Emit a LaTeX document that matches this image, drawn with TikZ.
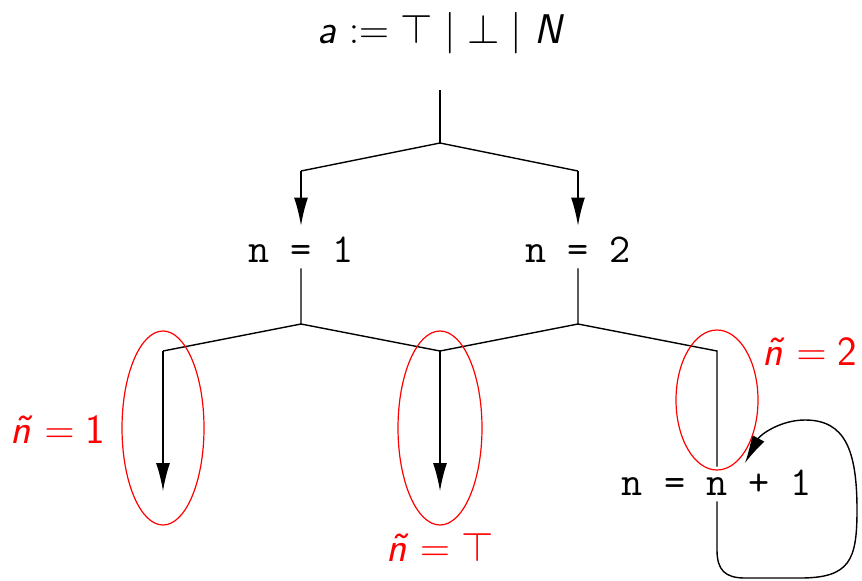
\documentclass[tikz,border=0pt]{standalone}
\usepackage{amsmath}
\usepackage{fontspec}
\usepackage{tikz}
\usetikzlibrary{arrows.meta, shapes.geometric}
\definecolor{ringred}{RGB}{255,0,0}

\begin{document}
\begin{tikzpicture}[x=0.5pt, y=-0.5pt,
    code/.style={font=\fontsize{20.5}{24}\selectfont\ttfamily, anchor=base, inner sep=3pt, text depth=0pt},
    flow/.style={line width=0.7pt},
    arrow/.style={flow, -{Latex[length=14pt, width=7pt]}},
    ring/.style={ellipse, draw=ringred, line width=0.6pt, inner sep=0pt},
    note/.style={text=ringred, font=\huge, anchor=base}]
    \useasboundingbox (0,0) rectangle (862,580);
    \node[font=\huge, anchor=base] (grammar) at (441,43) {$\textsf{\textit{a}} := \top \mid \bot \mid \textsf{\textit{N}}$};
    \coordinate (stem) at (440,90);
    \coordinate (fork) at (440,143);
    \coordinate (left) at (301,171);
    \coordinate (right) at (578,171);
    \node[code, text height=15pt] (one) at (301,262) {n = 1};
    \node[code, text height=15pt] (two) at (578,262) {n = 2};
    \node[code, text height=11pt] (inc) at (717,495) {n = n + 1};
    \coordinate (splitone) at (301,324);
    \coordinate (splittwo) at (578,324);
    \coordinate (armone) at (163,351);
    \coordinate (armmid) at (440,351);
    \coordinate (armtwo) at (717,351);
    \coordinate (endone) at (163,491);
    \coordinate (endmid) at (440,491);
    \coordinate (loopin) at (745,463);
    % upper fork
    \draw[flow] (stem) -- (fork);
    \draw[flow] (fork) -- (left);
    \draw[flow] (fork) -- (right);
    \draw[arrow] (left) -- (one);
    \draw[arrow] (right) -- (two);
    % lower forks
    \draw[flow] (one) -- (splitone) -- (armone);
    \draw[flow] (splitone) -- (armmid);
    \draw[flow] (two) -- (splittwo) -- (armtwo) -- (inc);
    \draw[flow] (splittwo) -- (armmid);
    \draw[arrow] (armone) -- (endone);
    \draw[arrow] (armmid) -- (endmid);
    \draw[arrow] (inc) -- (717,550) .. controls (717,570) and (725,578) .. (745,578)
        -- (800,578) .. controls (850,578) and (857,560) .. (857,510)
        .. controls (857,450) and (845,420) .. (805,420)
        .. controls (780,420) and (760,435) .. (loopin);
    % abstract values
    \node[ring, minimum width=41pt, minimum height=97pt] (ovalone) at (163,428) {};
    \node[ring, minimum width=42pt, minimum height=97pt] (ovalmid) at (440,428) {};
    \node[ring, minimum width=41pt, minimum height=70pt] (ovaltwo) at (717,400) {};
    \node[note] (tildeone) at (58,443) {$\textsf{\textit{\~n}} = \textsf{1}$};
    \node[note] (tildetop) at (440,561) {$\textsf{\textit{\~n}} = \top$};
    \node[note] (tildetwo) at (810,365) {$\textsf{\textit{\~n}} = \textsf{2}$};
\end{tikzpicture}
\end{document}
